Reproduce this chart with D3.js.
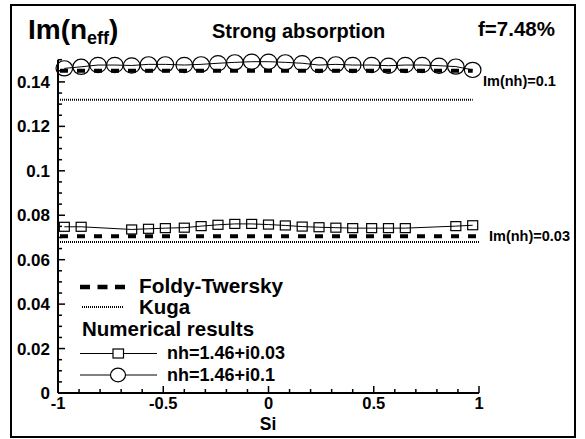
<!DOCTYPE html>
<html><head><meta charset="utf-8">
<script src="https://cdn.jsdelivr.net/npm/d3@7"></script>
<style>
html,body{margin:0;padding:0;background:#fff;}
text{font-family:"Liberation Sans",Arial,sans-serif;font-weight:bold;fill:#000;}
</style></head>
<body><svg id="c" width="585" height="439"></svg>
<script>
// ---- data ----
const circleX = [-0.97,-0.89,-0.81,-0.73,-0.65,-0.57,-0.49,-0.40,-0.32,-0.24,-0.16,-0.08,0,0.08,0.16,0.24,0.32,0.40,0.49,0.57,0.65,0.73,0.81,0.89,0.97];
const circleY = [0.1461,0.1468,0.1476,0.1476,0.1474,0.1479,0.1479,0.1476,0.1479,0.1484,0.1488,0.1491,0.1491,0.1488,0.1484,0.1476,0.1479,0.1476,0.1476,0.1473,0.1476,0.1476,0.1473,0.1469,0.1454];
const squareX = [-0.97,-0.89,-0.65,-0.57,-0.49,-0.40,-0.32,-0.24,-0.16,-0.08,0,0.08,0.16,0.24,0.32,0.40,0.49,0.57,0.65,0.89,0.97];
const squareY = [0.0748,0.0748,0.0736,0.0739,0.0742,0.0744,0.0751,0.0757,0.0761,0.0761,0.0758,0.0754,0.0749,0.0746,0.0744,0.0742,0.0742,0.0742,0.0742,0.0751,0.0755];
const ftLevels = [0.145, 0.0705];
const ftEnds = [0.97, 0.99];
const kugaLevels = [0.132, 0.068];
const kugaEnds = [0.97, 1.0];
const xTicks = [-1,-0.5,0,0.5,1];
const xTickLabels = ["-1","-0.5","0","0.5","1"];
const yTicks = [0,0.02,0.04,0.06,0.08,0.1,0.12,0.14];
const yTickLabels = ["0","0.02","0.04","0.06","0.08","0.1","0.12","0.14"];
const curveLabels = ["Im(nh)=0.1","Im(nh)=0.03"];

const svg = d3.select("#c");
const x = d3.scaleLinear().domain([-1,1]).range([58,479]);
const y = d3.scaleLinear().domain([0,0.15]).range([393,59.7]);

// frame
svg.append("rect").attr("x",11).attr("y",5).attr("width",564).attr("height",432)
  .attr("fill","none").attr("stroke","#000").attr("stroke-width",2);

// axes
const gx = svg.append("g").attr("transform",`translate(0,${y(0)})`);
gx.append("line").attr("x1",x(-1)).attr("x2",x(1)).attr("stroke","#000").attr("stroke-width",2);
gx.selectAll(".mt").data(d3.range(-10,11).map(d=>d/10)).join("line")
  .attr("x1",d=>x(d)).attr("x2",d=>x(d)).attr("y1",0)
  .attr("y2",d=>Math.abs(d*2-Math.round(d*2))<1e-6?-7:-4).attr("stroke","#000").attr("stroke-width",1.5);
gx.selectAll(".xl").data(xTicks).join("text").attr("x",d=>x(d)).attr("y",16)
  .attr("text-anchor","middle").attr("font-size",16.5).text((d,i)=>xTickLabels[i]);

const gy = svg.append("g").attr("transform",`translate(${x(-1)},0)`);
gy.append("line").attr("y1",y(0)).attr("y2",y(0.15)).attr("stroke","#000").attr("stroke-width",2);
gy.selectAll(".mt").data(d3.range(0,31).map(d=>d*0.005)).join("line")
  .attr("y1",d=>y(d)).attr("y2",d=>y(d)).attr("x1",0)
  .attr("x2",(d,i)=>i%4===0?7:4).attr("stroke","#000").attr("stroke-width",1.5);
gy.selectAll(".yl").data(yTicks).join("text").attr("x",-8).attr("y",d=>y(d)+6)
  .attr("text-anchor","end").attr("font-size",17).text((d,i)=>yTickLabels[i]);

svg.append("text").attr("x",268).attr("y",430).attr("text-anchor","middle").attr("font-size",17.5).text("Si");

// Kuga dotted
kugaLevels.forEach((v,i)=>{
  svg.append("line").attr("x1",x(-1)).attr("x2",x(kugaEnds[i])).attr("y1",y(v)).attr("y2",y(v))
    .attr("stroke","#000").attr("stroke-width",2).attr("stroke-dasharray","1,1");
});
// Foldy-Twersky dashed
ftLevels.forEach((v,i)=>{
  svg.append("line").attr("x1",x(-1)+2).attr("x2",x(ftEnds[i])).attr("y1",y(v)).attr("y2",y(v))
    .attr("stroke","#000").attr("stroke-width",4).attr("stroke-dasharray","8,9");
});

const line = d3.line().x(d=>x(d[0])).y(d=>y(d[1]));
const sq = squareX.map((d,i)=>[d,squareY[i]]);
const ci = circleX.map((d,i)=>[d,circleY[i]]);
svg.append("path").attr("d",line(sq)).attr("fill","none").attr("stroke","#000").attr("stroke-width",1);
svg.append("path").attr("d",line(ci)).attr("fill","none").attr("stroke","#000").attr("stroke-width",1);
svg.selectAll(".sq").data(sq).join("rect").attr("x",d=>x(d[0])-5).attr("y",d=>y(d[1])-4.5)
  .attr("width",10).attr("height",9).attr("fill","none").attr("stroke","#000").attr("stroke-width",1.2);
svg.selectAll(".ci").data(ci).join("ellipse").attr("cx",d=>x(d[0])).attr("cy",d=>y(d[1]))
  .attr("rx",8.3).attr("ry",7.6).attr("fill","none").attr("stroke","#000").attr("stroke-width",1.2);

// curve labels
svg.append("text").attr("x",483).attr("y",y(0.145)+15).attr("font-size",14.5).text(curveLabels[0]);
svg.append("text").attr("x",489).attr("y",y(0.0705)+5).attr("font-size",14.5).text(curveLabels[1]);

// titles
const t = svg.append("text").attr("x",28).attr("y",39).attr("font-size",28);
t.append("tspan").text("Im(n");
t.append("tspan").attr("font-size",18).attr("dy",5).text("eff");
t.append("tspan").attr("dy",-5).text(")");
svg.append("text").attr("x",212).attr("y",38).attr("font-size",20).text("Strong absorption");
svg.append("text").attr("x",478).attr("y",36).attr("font-size",20.5).text("f=7.48%");

// legend
svg.append("line").attr("x1",80).attr("x2",125).attr("y1",287).attr("y2",287)
  .attr("stroke","#000").attr("stroke-width",4.5).attr("stroke-dasharray","10,7.5");
svg.append("text").attr("x",139).attr("y",293).attr("font-size",20.8).text("Foldy-Twersky");
svg.append("line").attr("x1",82).attr("x2",123).attr("y1",307).attr("y2",307)
  .attr("stroke","#000").attr("stroke-width",2).attr("stroke-dasharray","1,1");
svg.append("text").attr("x",139).attr("y",314).attr("font-size",20.5).text("Kuga");
svg.append("text").attr("x",82).attr("y",336).attr("font-size",20.5).text("Numerical results");
svg.append("line").attr("x1",80).attr("x2",157).attr("y1",353.5).attr("y2",353.5).attr("stroke","#000").attr("stroke-width",1);
svg.append("rect").attr("x",113).attr("y",349).attr("width",10.5).attr("height",9).attr("fill","#fff").attr("stroke","#000").attr("stroke-width",1.2);
svg.append("text").attr("x",167).attr("y",359).attr("font-size",18).text("nh=1.46+i0.03");
svg.append("line").attr("x1",80).attr("x2",157).attr("y1",375).attr("y2",375).attr("stroke","#000").attr("stroke-width",1);
svg.append("ellipse").attr("cx",118).attr("cy",375).attr("rx",7.5).attr("ry",6.8).attr("fill","#fff").attr("stroke","#000").attr("stroke-width",1.2);
svg.append("text").attr("x",167).attr("y",381).attr("font-size",18).text("nh=1.46+i0.1");
</script></body></html>
